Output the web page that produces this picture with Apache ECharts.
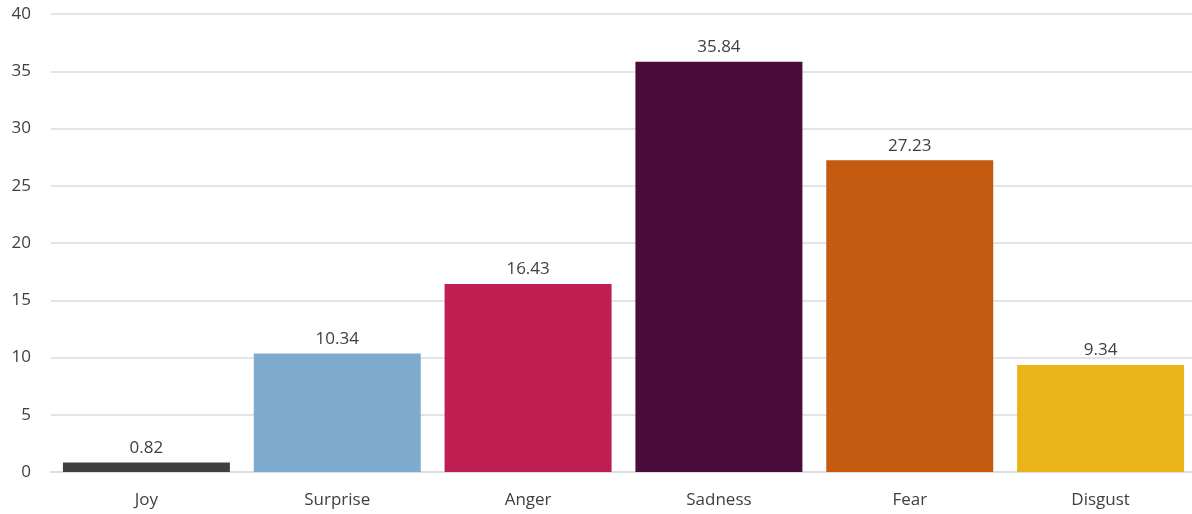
<!DOCTYPE html>
<html><head><meta charset="utf-8">
<script src="https://cdn.jsdelivr.net/npm/echarts@6/dist/echarts.min.js"></script>
<style>html,body{margin:0;padding:0;background:#fff}#c{width:1192px;height:514px}</style>
</head><body><div id="c"></div>
<script>
const categories = ["Joy","Surprise","Anger","Sadness","Fear","Disgust"];
const values = [0.82,10.34,16.43,35.84,27.23,9.34];
const colors = ["#404040","#7FABCE","#BE1E51","#4B0C3D","#C55A11","#EAB31A"];
const yTicks = [0,5,10,15,20,25,30,35,40];
const font = "Open Sans";
const chart = echarts.init(document.getElementById('c'));
chart.setOption({
  animation:false,
  grid:{left:51,right:-4,top:14,bottom:42,containLabel:false,outerBoundsMode:'none'},
  xAxis:{type:'category',data:categories,
    axisLine:{lineStyle:{color:'#d9dde5',width:2}},axisTick:{show:false},
    axisLabel:{margin:20,fontSize:17,color:'#404040',fontFamily:font}},
  yAxis:{type:'value',min:yTicks[0],max:yTicks[yTicks.length-1],interval:5,
    axisLine:{show:false},axisTick:{show:false},
    splitLine:{lineStyle:{color:'#e1e4eb',width:2}},
    axisLabel:{margin:20,fontSize:17,color:'#404040',fontFamily:font}},
  series:[{type:'bar',barWidth:167,
    data:values.map((v,i)=>({value:v,itemStyle:{color:colors[i]}})),
    label:{show:true,position:'top',distance:6,fontSize:17,color:'#404040',fontFamily:font,
      formatter:p=>p.value.toFixed(2)}}]
});
</script></body></html>
